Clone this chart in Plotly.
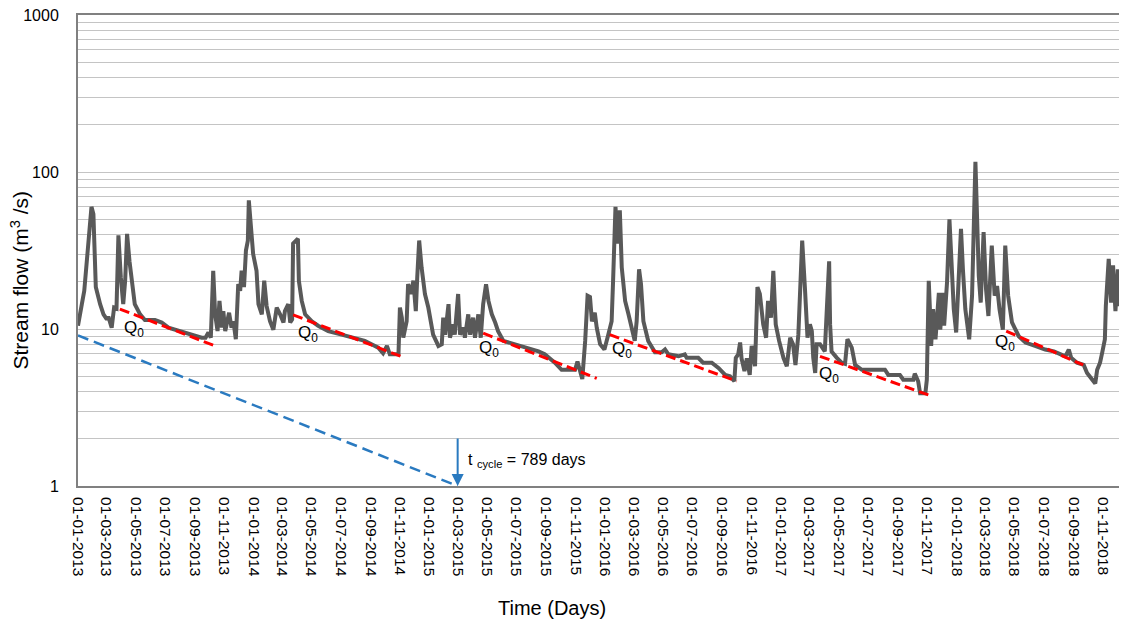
import math
import pandas as pd
import plotly.graph_objects as go

# ---------------- data ----------------
start_date = "2013-01-01"
# day offsets from 01-01-2013 and stream flow (m3/s)
days = [0, 4, 8, 13, 18, 20, 25, 28, 32, 34, 37, 46, 53, 60, 63, 70, 75, 80, 84, 89,
        94, 98, 102, 107, 112, 118, 129, 139, 160, 174, 188, 202, 222, 243, 257, 265, 271, 276, 281, 285,
        290, 294, 299, 302, 306, 314, 319, 323, 328, 333, 337, 340, 345, 349, 353, 355, 360, 364, 371, 375,
        382, 387, 392, 399, 406, 413, 420, 427, 430, 437, 441, 445, 447, 452, 457, 459, 465, 472, 486, 499,
        520, 548, 569, 596, 610, 624, 634, 642, 648, 666, 669, 673, 676, 683, 686, 692, 697, 702, 705, 709,
        714, 721, 728, 738, 749, 756, 759, 763, 770, 773, 780, 783, 790, 794, 801, 804, 811, 815, 821, 825,
        832, 837, 842, 848, 853, 860, 867, 873, 884, 908, 929, 957, 970, 991, 1005, 1033, 1038, 1043, 1048, 1054,
        1059, 1064, 1068, 1074, 1078, 1085, 1094, 1102, 1109, 1112, 1117, 1122, 1126, 1130, 1137, 1144, 1151, 1157, 1161, 1166,
        1170, 1175, 1185, 1199, 1213, 1220, 1227, 1248, 1261, 1265, 1289, 1299, 1317, 1331, 1345, 1355, 1364, 1367, 1372, 1376,
        1379, 1385, 1390, 1396, 1400, 1407, 1412, 1417, 1424, 1430, 1434, 1440, 1445, 1450, 1457, 1466, 1473, 1480, 1486, 1491,
        1497, 1501, 1505, 1511, 1516, 1521, 1525, 1528, 1532, 1535, 1542, 1552, 1561, 1563, 1566, 1577, 1587, 1594, 1599, 1608,
        1615, 1629, 1677, 1684, 1708, 1715, 1736, 1739, 1746, 1750, 1761, 1764, 1768, 1771, 1773, 1777, 1782, 1789, 1792, 1797,
        1800, 1806, 1811, 1815, 1820, 1825, 1830, 1835, 1839, 1844, 1852, 1858, 1865, 1868, 1872, 1876, 1882, 1887, 1892, 1899,
        1905, 1910, 1915, 1922, 1927, 1933, 1941, 1955, 1969, 1989, 2010, 2028, 2052, 2059, 2064, 2076, 2090, 2097, 2107, 2114,
        2118, 2124, 2129, 2134, 2136, 2142, 2147, 2151, 2156, 2161, 2164, 2171, 2176, 2180]
flow = [10.5, 12, 14.4, 17.5, 27, 35, 49, 60, 54, 35, 18.5, 14.4, 12.4, 11.5, 12.0, 10.2, 13.7, 13.5, 39.5, 21.3,
        14.4, 20.3, 40.4, 27, 20.3, 14.4, 12.4, 11.4, 11.4, 11.0, 10.2, 9.9, 9.5, 9.0, 8.8, 8.8, 9.5, 8.8, 23.5, 12.4,
        9.7, 15.1, 10.2, 13, 9.7, 12.7, 10.2, 11.2, 8.6, 19.3, 17.5, 23.5, 18.5, 31.6, 36.6, 66, 44.6, 30, 23.5, 14.4,
        12.4, 20.3, 14, 11.2, 9.9, 13.7, 12.4, 11, 13, 14.4, 11, 11.5, 35, 36.6, 37.6, 20.3, 15.1, 12.4, 11.2, 10.5,
        9.7, 9.2, 8.8, 8.4, 8.0, 7.6, 7.0, 7.8, 6.9, 6.9, 13.7, 11.8, 8.8, 11.2, 19.3, 16.7, 20.3, 13, 21.3, 36.6,
        24.7, 16.7, 13.7, 9.2, 7.8, 8.0, 11.8, 9.2, 14.4, 8.8, 10.7, 9.2, 16.7, 9.2, 10.2, 8.8, 12.4, 9.2, 11.8, 8.8,
        12.4, 8.8, 14.4, 19.3, 15.1, 12.4, 11, 9.7, 8.4, 8.0, 7.6, 7.2, 6.9, 6.1, 5.5, 5.5, 6.2, 5.5, 4.8, 8.4,
        16.3, 16, 11.2, 12.7, 10.2, 8.0, 7.4, 9.2, 11.2, 20.3, 60, 35, 57, 24.7, 15.1, 12.4, 9.7, 8.4, 11.2, 24,
        19.3, 11.2, 8.4, 7.1, 7.1, 7.4, 6.9, 6.7, 6.9, 6.55, 6.55, 6.1, 6.1, 5.65, 5.1, 5.0, 4.65, 6.55, 6.9, 8.2,
        6.5, 5.4, 6.5, 5.1, 7.8, 5.8, 18.5, 16.7, 10.7, 8.8, 15.1, 11.8, 23.5, 10.7, 8.4, 6.55, 5.8, 8.8, 8.0, 5.9,
        9.2, 22.4, 36.6, 17.5, 8.8, 10.7, 9.7, 6.55, 5.25, 8.0, 8.0, 7.2, 27, 10.7, 7.2, 6.55, 6.1, 6.0, 8.6, 7.6,
        5.9, 5.5, 5.5, 5.1, 5.1, 4.75, 4.75, 5.2, 4.65, 3.9, 3.9, 4.75, 20.3, 12.1, 7.8, 13.4, 8.6, 17, 9.9, 17,
        10.5, 19.8, 50, 28, 13.4, 9.5, 19.8, 43.5, 24, 13.4, 8.6, 16.3, 116, 53, 21.8, 14.7, 41.5, 18, 12.1, 34,
        16.3, 18.8, 13.4, 9.9, 34, 16.3, 11, 9.0, 8.2, 7.8, 7.4, 7.2, 6.7, 7.4, 6.55, 6.1, 5.9, 5.25, 4.75, 4.5,
        5.5, 6.1, 7.2, 8.6, 14, 28, 14.7, 25.4, 13, 24, 14, 26.5, 9.9, 10]

# recession (Q0) segments: start/end day and flow
rec_day_start = [87, 447, 842, 1105, 1542, 1929]
rec_day_end = [285, 673, 1078, 1369, 1776, 2089]
rec_q_start = [13.4, 12.3, 9.4, 9.2, 6.7, 9.7]
rec_q_end = [7.8, 6.66, 4.85, 4.65, 3.72, 5.9]

# Q0 label positions (day, flow)
q0_day = [92, 453, 829, 1106, 1535, 1901]
q0_flow = [10.0, 9.25, 7.5, 7.4, 5.1, 8.2]

# cycle line (day, flow) and cycle length
cycle_day = [0, 789]
cycle_flow = [9.1, 1.0]
t_cycle_days = 789

x_range_days = [0, 2180]
tick_month_step = 2
y_major = [1, 10, 100, 1000]

# ---------------- build ----------------
t0 = pd.Timestamp(start_date)
to_date = lambda d: t0 + pd.Timedelta(days=d)
dates = [to_date(d) for d in days]

fig = go.Figure()

fig.add_trace(go.Scatter(x=dates, y=flow, mode="lines",
                         line=dict(color="#595959", width=4), hoverinfo="skip"))

for ds, de, qs, qe in zip(rec_day_start, rec_day_end, rec_q_start, rec_q_end):
    fig.add_trace(go.Scatter(x=[to_date(ds), to_date(de)], y=[qs, qe], mode="lines",
                             line=dict(color="#FF0000", width=3, dash="10px,5px")))

fig.add_trace(go.Scatter(x=[to_date(d) for d in cycle_day], y=cycle_flow, mode="lines",
                         line=dict(color="#2A7AC0", width=2.5, dash="11px,6px")))

font_family = "Liberation Sans, Arial, sans-serif"

# page body has an 8px margin: figure is shrunk/offset so the plot area sits at the same screen place
OFF = 8
PL, PR, PT, PB = 78, 1127, 15, 486  # plot area in screen pixels

annotations = []
for d, q in zip(q0_day, q0_flow):
    annotations.append(dict(x=to_date(d), y=math.log10(q), xref="x", yref="y",
                            text="Q<sub>0</sub>", showarrow=False, xanchor="left", yanchor="middle",
                            font=dict(size=17, color="#000000", family=font_family)))

# arrow showing t_cycle
annotations.append(dict(x=to_date(t_cycle_days), y=0, xref="x", yref="y",
                        ax=to_date(t_cycle_days), ay=math.log10(2.05), axref="x", ayref="y",
                        showarrow=True, arrowhead=2, arrowsize=1.2, arrowwidth=2, arrowcolor="#2A7AC0",
                        text=""))
annotations.append(dict(x=to_date(806), y=math.log10(1.46), xref="x", yref="y",
                        text=f"t <sub>cycle</sub> = {t_cycle_days} days", showarrow=False,
                        xanchor="left", yanchor="middle",
                        font=dict(size=16, color="#000000", family=font_family)))
# axis titles
annotations.append(dict(x=(19.5 - PL) / (PR - PL), y=(PB - 280) / (PB - PT), xref="paper", yref="paper",
                        text="Stream flow (m<sup>3</sup> /s)", textangle=-90, showarrow=False,
                        xanchor="center", yanchor="middle",
                        font=dict(size=21, color="#000000", family=font_family)))
annotations.append(dict(x=(552 - PL) / (PR - PL), y=(PB - 608) / (PB - PT), xref="paper", yref="paper",
                        text="Time (Days)", showarrow=False, xanchor="center", yanchor="middle",
                        font=dict(size=20, color="#000000", family=font_family)))

# ticks
tickdates = pd.date_range(start_date, to_date(x_range_days[1]), freq=f"{tick_month_step}MS")
y_minor = [dec * m for dec in y_major[:-1] for m in range(2, 10)]

W, H = 1127 - OFF, 622 - OFF
fig.update_layout(
    width=W, height=H,
    margin=dict(l=PL - OFF, r=0, t=PT - OFF, b=H - (PB - OFF), autoexpand=False),
    paper_bgcolor="white", plot_bgcolor="white",
    showlegend=False,
    annotations=annotations,
    xaxis=dict(type="date", range=[to_date(x_range_days[0]), to_date(x_range_days[1])],
               tickvals=list(tickdates), tickformat="%d-%m-%Y", tickangle=90,
               showgrid=False, showline=True, linecolor="#808080", linewidth=2, mirror=True,
               ticks="", ticklabelstandoff=6, ticklabeloverflow="allow",
               tickfont=dict(size=15.5, color="#000000", family=font_family)),
    yaxis=dict(type="log", range=[0, 3], tickvals=y_major, ticktext=[str(v) for v in y_major],
               showgrid=True, gridcolor="#C4C4C4", gridwidth=1.3,
               minor=dict(tickmode="array", tickvals=y_minor, showgrid=True,
                          gridcolor="#C4C4C4", gridwidth=1.3, ticks=""),
               showline=True, linecolor="#808080", linewidth=2, zeroline=False,
               ticks="", ticklabelstandoff=14, ticklabeloverflow="allow",
               tickfont=dict(size=16, color="#000000", family=font_family)),
)

fig.write_html("out.html")
